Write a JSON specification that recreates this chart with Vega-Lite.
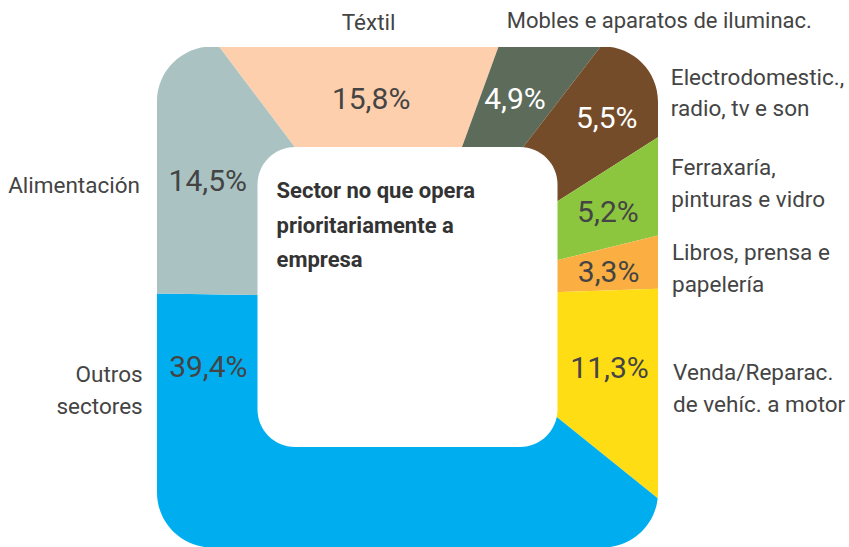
{
  "$schema": "https://vega.github.io/schema/vega-lite/v6.json",
  "width": 501,
  "height": 500,
  "autosize": {"type": "none"},
  "padding": {"left": 157, "top": 47, "right": 191, "bottom": 0},
  "background": "white",
  "config": {
    "view": {"stroke": null},
    "locale": {"number": {"decimal": ",", "thousands": ".", "grouping": [3], "currency": ["", "%"]}}
  },
  "data": {"values": [
    {"cat": "Téxtil", "v": 15.8},
    {"cat": "Mobles e aparatos de iluminac.", "v": 4.9},
    {"cat": "Electrodomestic.,\nradio, tv e son", "v": 5.5},
    {"cat": "Ferraxaría,\npinturas e vidro", "v": 5.2},
    {"cat": "Libros, prensa e\npapelería", "v": 3.3},
    {"cat": "Venda/Reparac.\nde vehíc. a motor", "v": 11.3},
    {"cat": "Outros\nsectores", "v": 39.4},
    {"cat": "Alimentación", "v": 14.5}
  ]},
  "transform": [{"window": [{"op": "row_number", "as": "n"}]}],
  "layer": [
    {
      "mark": {"type": "arc", "outerRadius": 380, "clip": true},
      "encoding": {
        "theta": {"field": "v", "type": "quantitative", "stack": true, "scale": {"range": [-0.645, 5.638], "nice": false}},
        "order": {"field": "n"},
        "color": {"field": "cat", "type": "nominal", "legend": null,
          "scale": {
            "domain": ["Téxtil", "Mobles e aparatos de iluminac.", "Electrodomestic.,\nradio, tv e son", "Ferraxaría,\npinturas e vidro", "Libros, prensa e\npapelería", "Venda/Reparac.\nde vehíc. a motor", "Outros\nsectores", "Alimentación"],
            "range": ["#FDCFAC", "#5D6B5B", "#754C29", "#8CC63F", "#FBAE42", "#FFDD15", "#00AEEF", "#AAC3C2"]
          }
        }
      }
    },
    {
      "data": {"values": [{}]},
      "mark": {"type": "point", "shape": "M-1.3,-1.3L1.3,-1.3L1.3,1.3L-1.3,1.3ZM-0.78,-1A0.22,0.22 0 0 0 -1,-0.78L-1,0.78A0.22,0.22 0 0 0 -0.78,1L0.78,1A0.22,0.22 0 0 0 1,0.78L1,-0.78A0.22,0.22 0 0 0 0.78,-1Z", "size": 251001, "filled": true, "fill": "white", "opacity": 1, "strokeWidth": 0},
      "encoding": {}
    },
    {
      "data": {"values": [{}]},
      "mark": {"type": "point", "shape": "M-0.75,-1L0.75,-1A0.25,0.25 0 0 1 1,-0.75L1,0.75A0.25,0.25 0 0 1 0.75,1L-0.75,1A0.25,0.25 0 0 1 -1,0.75L-1,-0.75A0.25,0.25 0 0 1 -0.75,-1Z", "size": 90000, "filled": true, "fill": "white", "opacity": 1, "strokeWidth": 0},
      "encoding": {}
    },
    {
      "data": {"values": [{}]},
      "mark": {"type": "text", "text": ["Sector no que opera", "prioritariamente a", "empresa"], "align": "left", "baseline": "middle", "dx": -131, "dy": -106, "fontSize": 22, "fontWeight": "bold", "font": "Roboto", "fill": "#333333", "lineHeight": 34.5},
      "encoding": {}
    },
    {
      "encoding": {
        "theta": {"field": "v", "type": "quantitative", "stack": true},
        "order": {"field": "n"},
        "detail": {"field": "cat"}
      },
      "layer": [
        {"mark": {"type": "text", "radius": 199, "dx": -7, "fontSize": 30, "font": "Roboto", "fill": "#444444", "baseline": "middle"},
         "encoding": {"text": {"condition": {"test": "datum.n === 1", "field": "v", "type": "quantitative", "format": "$.1f"}, "value": ""}}},
        {"mark": {"type": "text", "radius": 225, "dx": -1, "fontSize": 30, "font": "Roboto", "fill": "#FFFFFF", "baseline": "middle"},
         "encoding": {"text": {"condition": {"test": "datum.n === 2", "field": "v", "type": "quantitative", "format": "$.1f"}, "value": ""}}},
        {"mark": {"type": "text", "radius": 270, "dy": 4, "fontSize": 30, "font": "Roboto", "fill": "#FFFFFF", "baseline": "middle"},
         "encoding": {"text": {"condition": {"test": "datum.n === 3", "field": "v", "type": "quantitative", "format": "$.1f"}, "value": ""}}},
        {"mark": {"type": "text", "radius": 218, "dy": 2, "fontSize": 30, "font": "Roboto", "fill": "#444444", "baseline": "middle"},
         "encoding": {"text": {"condition": {"test": "datum.n === 4", "field": "v", "type": "quantitative", "format": "$.1f"}, "value": ""}}},
        {"mark": {"type": "text", "radius": 203, "dy": 4, "fontSize": 30, "font": "Roboto", "fill": "#444444", "baseline": "middle"},
         "encoding": {"text": {"condition": {"test": "datum.n === 5", "field": "v", "type": "quantitative", "format": "$.1f"}, "value": ""}}},
        {"mark": {"type": "text", "radius": 213, "dy": 5, "fontSize": 30, "font": "Roboto", "fill": "#444444", "baseline": "middle"},
         "encoding": {"text": {"condition": {"test": "datum.n === 6", "field": "v", "type": "quantitative", "format": "$.1f"}, "value": ""}}},
        {"mark": {"type": "text", "radius": 213, "dx": -127, "dy": -129, "fontSize": 30, "font": "Roboto", "fill": "#444444", "baseline": "middle"},
         "encoding": {"text": {"condition": {"test": "datum.n === 7", "field": "v", "type": "quantitative", "format": "$.1f"}, "value": ""}}},
        {"mark": {"type": "text", "radius": 224, "dy": -14, "fontSize": 30, "font": "Roboto", "fill": "#444444", "baseline": "middle"},
         "encoding": {"text": {"condition": {"test": "datum.n === 8", "field": "v", "type": "quantitative", "format": "$.1f"}, "value": ""}}},

        {"mark": {"type": "text", "radius": 277, "dx": 2, "align": "center", "baseline": "middle", "fontSize": 22.5, "font": "Roboto", "fill": "#444444", "lineBreak": "\n", "lineHeight": 31},
         "encoding": {"text": {"condition": {"test": "datum.n === 1", "field": "cat"}, "value": ""}}},
        {"mark": {"type": "text", "radius": 315, "dx": 100, "align": "center", "baseline": "middle", "fontSize": 22, "font": "Roboto", "fill": "#444444", "lineBreak": "\n", "lineHeight": 31},
         "encoding": {"text": {"condition": {"test": "datum.n === 2", "field": "cat"}, "value": ""}}},
        {"mark": {"type": "text", "radius": 300, "dx": 42, "dy": -17, "align": "left", "baseline": "middle", "fontSize": 22.5, "font": "Roboto", "fill": "#444444", "lineBreak": "\n", "lineHeight": 31},
         "encoding": {"text": {"condition": {"test": "datum.n === 3", "field": "cat"}, "value": ""}}},
        {"mark": {"type": "text", "radius": 287, "dy": -16, "align": "left", "baseline": "middle", "fontSize": 22.5, "font": "Roboto", "fill": "#444444", "lineBreak": "\n", "lineHeight": 32},
         "encoding": {"text": {"condition": {"test": "datum.n === 4", "field": "cat"}, "value": ""}}},
        {"mark": {"type": "text", "radius": 267, "dy": -7, "align": "left", "baseline": "middle", "fontSize": 22.5, "font": "Roboto", "fill": "#444444", "lineBreak": "\n", "lineHeight": 32},
         "encoding": {"text": {"condition": {"test": "datum.n === 5", "field": "cat"}, "value": ""}}},
        {"mark": {"type": "text", "radius": 280, "dy": -13, "align": "left", "baseline": "middle", "fontSize": 22.5, "font": "Roboto", "fill": "#444444", "lineBreak": "\n", "lineHeight": 32},
         "encoding": {"text": {"condition": {"test": "datum.n === 6", "field": "cat"}, "value": ""}}},
        {"mark": {"type": "text", "radius": 280, "dx": -170, "dy": -185, "align": "right", "baseline": "middle", "fontSize": 22.5, "font": "Roboto", "fill": "#444444", "lineBreak": "\n", "lineHeight": 32},
         "encoding": {"text": {"condition": {"test": "datum.n === 7", "field": "cat"}, "value": ""}}},
        {"mark": {"type": "text", "radius": 300, "dy": 25, "align": "right", "baseline": "middle", "fontSize": 22.5, "font": "Roboto", "fill": "#444444", "lineBreak": "\n", "lineHeight": 31},
         "encoding": {"text": {"condition": {"test": "datum.n === 8", "field": "cat"}, "value": ""}}}
      ]
    }
  ]
}
